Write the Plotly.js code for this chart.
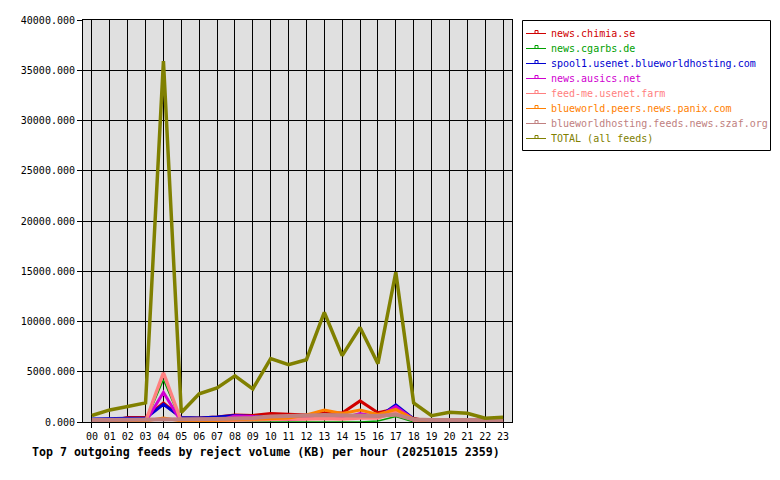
<!DOCTYPE html>
<html>
<head>
<meta charset="utf-8">
<script src="https://cdn.plot.ly/plotly-3.0.1.min.js"></script>
<style>html,body{margin:0;padding:0;background:#fff;}#chart{width:780px;height:480px;}</style>
</head>
<body>
<div id="chart"></div>
<script>
const hours = ['00','01','02','03','04','05','06','07','08','09','10','11','12','13','14','15','16','17','18','19','20','21','22','23'];
const feedNames = ['news.chimia.se','news.cgarbs.de','spool1.usenet.blueworldhosting.com','news.ausics.net','feed-me.usenet.farm','blueworld.peers.news.panix.com','blueworldhosting.feeds.news.szaf.org','TOTAL (all feeds)'];
const chimia   = [0,100,450,450,1900,400,400,500,700,650,850,750,700,900,900,2100,930,1300,350,50,30,30,30,30];
const cgarbs   = [0,0,0,0,4200,0,0,0,0,0,0,0,0,0,0,0,100,550,0,0,0,0,0,0];
const spool1   = [300,370,370,370,1750,450,400,500,650,550,500,450,400,700,500,550,450,1700,300,50,0,0,0,0];
const ausics   = [0,0,0,0,2950,0,0,100,600,550,300,250,350,350,350,850,500,1550,250,0,0,0,0,0];
const feedme   = [0,0,0,50,4900,50,100,150,200,250,300,300,300,350,300,400,400,1000,200,50,0,0,0,0];
const panix    = [100,100,100,100,400,100,100,150,200,300,350,400,700,1200,850,1200,750,1250,300,0,0,0,0,0];
const szaf     = [200,200,200,200,200,200,250,300,350,400,550,550,650,700,650,650,600,750,250,200,200,200,200,200];
const total    = [650,1200,1550,1900,35900,950,2800,3400,4600,3300,6300,5700,6200,10900,6600,9400,5800,14900,1900,630,960,860,370,470];

const seriesValues = [chimia, cgarbs, spool1, ausics, feedme, panix, szaf, total];
const colors = ['#d00000','#00a000','#0000d0','#d000d0','#ff8080','#ff8000','#c08080','#808000'];
const widths = [3,1.5,3,3,3.5,3,4,3.5];

const xs = hours.map((h,i)=>i);
const traces = seriesValues.map((vals,k)=>({
  x: xs, y: vals, type:'scatter', mode:'lines', name: feedNames[k],
  line:{color:colors[k], width:widths[k]}, showlegend:false, hoverinfo:'skip'
}));

// plot area in pixels
const L=83, R=512, T=20, B=422;
const px = v => (v-L)/(R-L);
const py = v => (B-v)/(B-T);

const annotations = [];
const shapes = [];
// legend box
shapes.push({type:'rect', xref:'paper', yref:'paper', x0:px(522.5), x1:px(770.5), y0:py(150.5), y1:py(20.5),
  line:{color:'#000', width:1}, fillcolor:'#fff', layer:'above'});
const rowY = [33,48,63,78,93,108,123,138];
feedNames.forEach((n,k)=>{
  const y = rowY[k];
  shapes.push({type:'line', xref:'paper', yref:'paper', x0:px(526), x1:px(546), y0:py(y+0.5), y1:py(y+0.5),
    line:{color:colors[k], width:1}, layer:'above'});
  shapes.push({type:'rect', xref:'paper', yref:'paper', x0:px(535), x1:px(538), y0:py(y+0.5), y1:py(y-2.5),
    line:{color:colors[k], width:1}, fillcolor:'rgba(0,0,0,0)', layer:'above'});
  annotations.push({xref:'paper', yref:'paper', x:px(548.5), y:py(y), xanchor:'left', yanchor:'middle',
    text:n, showarrow:false, font:{family:'DejaVu Sans Mono', size:10, color:colors[k]}});
});
annotations.push({xref:'paper', yref:'paper', x:px(265.5), y:0, yshift:-30, xanchor:'center', yanchor:'middle',
  text:'<b>Top 7 outgoing feeds by reject volume (KB) per hour (20251015 2359)</b>', showarrow:false,
  font:{family:'DejaVu Sans Mono', size:11.6, color:'#000'}});

const layout = {
  width:780, height:480,
  margin:{l:L, r:780-R, t:T, b:480-B, pad:0},
  paper_bgcolor:'#ffffff', plot_bgcolor:'#e0e0e0',
  font:{family:'DejaVu Sans Mono', size:10, color:'#000'},
  showlegend:false,
  xaxis:{range:[-0.5,23.5], tickvals:xs, ticktext:hours, ticks:'outside', ticklen:5, tickcolor:'#000',
    showgrid:true, gridcolor:'#000', gridwidth:1, showline:true, linecolor:'#000', linewidth:1, mirror:true,
    zeroline:false, fixedrange:true, tickfont:{family:'DejaVu Sans Mono', size:10, color:'#000'}},
  yaxis:{range:[0,40000], dtick:5000, tick0:0, tickformat:'.3f', ticks:'outside', ticklen:5, tickcolor:'#000',
    showgrid:true, gridcolor:'#000', gridwidth:1, showline:true, linecolor:'#000', linewidth:1, mirror:true,
    zeroline:false, fixedrange:true, tickfont:{family:'DejaVu Sans Mono', size:10, color:'#000'}},
  shapes: shapes,
  annotations: annotations
};
Plotly.newPlot('chart', traces, layout, {staticPlot:true, displayModeBar:false});
</script>
</body>
</html>
